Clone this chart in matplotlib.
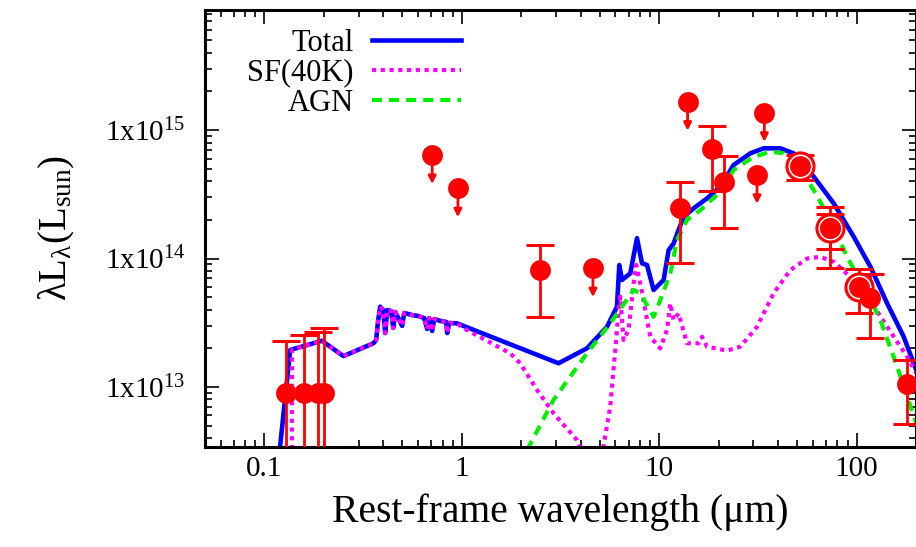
import numpy as np
import matplotlib.pyplot as plt
from matplotlib.ticker import FixedLocator, LogLocator, NullFormatter, FuncFormatter

plt.rcParams['font.family'] = 'Liberation Serif'
plt.rcParams['mathtext.fontset'] = 'custom'
plt.rcParams['mathtext.rm'] = 'Liberation Serif'
plt.rcParams['mathtext.it'] = 'Liberation Serif:italic'

# --- SED model components (wavelength in micron, lambda L_lambda in L_sun) ---
# UV rise of the total and SF models
wl_uv_total = [0.1173, 0.1350]
L_uv_total = [2.43e12, 1.94e13]
wl_uv_sf = [0.1377, 0.1380]
L_uv_sf = [2.4e12, 1.95e13]

# stellar UV-optical continuum, common to Total and SF
wl_star = [0.1954, 0.2514, 0.3568, 0.3682, 0.3770, 0.3859, 0.3996, 0.4091, 0.4187,
           0.4387, 0.4491, 0.4597, 0.4987, 0.5105, 0.5604, 0.6012, 0.6447, 0.6677,
           0.6836, 0.7079, 0.7245, 0.7772, 0.8335, 0.8435, 0.8632, 0.9445]
L_star = [2.29e13, 1.74e13, 2.19e13, 2.32e13, 3.32e13, 4.22e13, 3.97e13, 2.63e13, 3.97e13,
          3.90e13, 2.88e13, 3.84e13, 2.99e13, 3.77e13, 3.63e13, 3.57e13, 3.44e13, 2.83e13,
          3.44e13, 2.73e13, 3.38e13, 3.27e13, 3.21e13, 2.63e13, 3.15e13, 3.13e13]

# Total model beyond 1 micron
wl_total_ir = [3.091, 4.306, 5.438, 6.111, 6.278, 6.478, 7.138, 7.719, 8.181, 8.678,
               9.367, 10.53, 11.16, 11.83, 12.54, 13.30, 14.95, 17.47, 20.40, 23.84,
               28.95, 33.81, 41.10, 48.00, 60.63, 76.55, 96.67, 117.5, 142.8, 173.3,
               194.7, 223.2]
L_total_ir = [1.53e13, 2.00e13, 2.94e13, 4.22e13, 8.90e13, 6.81e13, 7.67e13, 1.44e14, 9.18e13, 8.90e13,
              5.69e13, 6.81e13, 1.16e14, 1.31e14, 1.67e14, 2.11e14, 2.46e14, 2.94e14, 3.62e14, 5.35e14,
              6.59e14, 7.21e14, 7.21e14, 6.59e14, 4.34e14, 2.69e14, 1.48e14, 8.63e13, 4.48e13, 2.46e13,
              1.53e13, 8.8e12]

# SF (40K) model beyond 1 micron
wl_sf_ir = [1.016, 1.759, 1.977, 2.403, 2.916, 3.832, 4.075, 4.25,
            5.03, 5.650, 5.990, 6.225, 6.350, 6.600, 6.997, 7.418, 7.653, 8.021,
            9.014, 10.13, 10.95, 11.38, 11.83, 12.54, 13.83, 15.84, 16.48, 17.47,
            22.06, 25.76, 31.31, 37.99, 46.17, 56.12, 65.54, 76.55, 96.67, 122.7,
            154.3, 180.5, 200.9, 223.2]
L_sf_ir = [2.88e13, 1.83e13, 1.53e13, 9.5e12, 6.24e12, 3.87e12, 3.12e12, 2.5e12,
           2.47e12, 7.03e12, 1.94e13, 3.97e13, 5.05e13, 2.32e13, 2.78e13, 6.41e13, 8.90e13, 6.41e13,
           2.46e13, 2.00e13, 2.78e13, 4.48e13, 3.32e13, 3.74e13, 2.19e13, 2.19e13, 2.46e13, 2.06e13,
           1.92e13, 2.06e13, 2.94e13, 5.36e13, 8.13e13, 1.00e14, 1.03e14, 9.44e13, 6.81e13, 4.22e13,
           2.46e13, 1.72e13, 1.28e13, 9.6e12]

# AGN torus model
wl_agn = [1.954, 2.916, 4.306, 5.650, 7.418, 8.021, 9.367, 10.13, 11.38, 12.31,
          13.83, 16.16, 20.40, 23.84, 30.09, 36.57, 42.71, 49.93, 60.63, 73.66,
          89.48, 113.0, 132.0, 160.5, 180.5, 200.9, 223.2]
L_agn = [2.47e12, 7.93e12, 1.83e13, 3.13e13, 5.69e13, 5.36e13, 3.52e13, 4.75e13, 7.67e13, 1.39e14,
         2.00e14, 2.38e14, 3.31e14, 4.89e14, 6.19e14, 6.78e14, 6.59e14, 5.51e14, 3.41e14, 2.00e14,
         1.03e14, 5.36e13, 3.32e13, 1.44e13, 8.41e12, 5.21e12, 3.29e12]

# --- photometry ---
det_wl = [0.1288, 0.1595, 0.1878, 0.2008, 2.497, 12.79, 18.52, 21.21, 73.66, 117.5, 180.5]
det_L = [9.04e12, 9.04e12, 9.04e12, 9.04e12, 8.13e13, 2.46e14, 7.08e14, 3.96e14, 1.72e14, 4.90e13, 1.05e13]
det_hi = [2.28e13, 2.54e13, 2.69e13, 2.86e13, 1.27e14, 3.97e14, 1.07e15, 6.28e14, 2.50e14, 7.57e13, 1.62e13]
det_lo = [1e12, 1e12, 1e12, 1e12, 3.52e13, 9.27e13, 3.37e14, 1.74e14, 8.40e13, 2.42e13, 5.13e12]

ring_wl = [51.90, 73.66, 102.5]
ring_L = [5.25e14, 1.72e14, 6.04e13]
ring_hi = [6.38e14, 2.22e14, 8.28e13]
ring_lo = [4.08e14, 1.19e14, 3.74e13]

lim_wl = [0.7079, 0.9554, 4.618, 13.93, 31.31, 34.09]
lim_L = [6.38e14, 3.52e14, 8.4e13, 1.66e15, 4.47e14, 1.36e15]

total_wl = wl_uv_total + wl_star + wl_total_ir
total_L = L_uv_total + L_star + L_total_ir
sf_wl = wl_uv_sf + wl_star + wl_sf_ir
sf_L = L_uv_sf + L_star + L_sf_ir

fig = plt.figure(figsize=(9.16, 5.47), dpi=100)
ax = fig.add_axes([205 / 916, 1 - 446.7 / 547, 711 / 916, 436.7 / 547])

ax.plot(total_wl, total_L, color='#0000ff', lw=3.3, label='Total', zorder=2)
ax.plot(sf_wl, sf_L, color='#ff00ff', lw=3, linestyle=(0, (1, 1.1)), label='SF(40K)', zorder=2.1)
ax.plot(wl_agn, L_agn, color='#00ee00', lw=3, linestyle=(0, (2.4, 1.7)), label='AGN', zorder=2.2)

red = '#ff0000'
det_L = np.array(det_L)
ring_L = np.array(ring_L)
ax.errorbar(det_wl, det_L, yerr=[det_L - np.array(det_lo), np.array(det_hi) - det_L],
            fmt='none', ecolor=red, elinewidth=2, capsize=10, capthick=2.2, zorder=3)
ax.errorbar(ring_wl, ring_L, yerr=[ring_L - np.array(ring_lo), np.array(ring_hi) - ring_L],
            fmt='none', ecolor=red, elinewidth=2, capsize=10, capthick=2.2, zorder=3)
ax.plot(ring_wl, ring_L, 'o', ms=19.5, mfc='white', mec=red, mew=2.2, zorder=4)
ax.plot(ring_wl, ring_L, 'o', ms=15, color=red, mec='none', zorder=5)
ax.plot(det_wl, det_L, 'o', ms=15, color=red, mec='none', zorder=5)

# upper limits: circle with a short downward arrow
for w, l in zip(lim_wl, lim_L):
    ax.annotate('', xy=(w, l * 10 ** -0.225), xytext=(w, l),
                arrowprops=dict(arrowstyle='-|>', color=red, lw=2, mutation_scale=11,
                                shrinkA=0, shrinkB=0), zorder=4)
ax.plot(lim_wl, lim_L, 'o', ms=15, color=red, mec='none', zorder=5)

ax.set_xscale('log')
ax.set_yscale('log')
ax.set_xlim(0.05, 200)
ax.set_ylim(3.43e12, 8.6e15)

ax.xaxis.set_major_locator(FixedLocator([0.1, 1, 10, 100]))
ax.xaxis.set_major_formatter(FuncFormatter(lambda v, p: '%g' % v))
ax.xaxis.set_minor_locator(LogLocator(base=10, subs=np.arange(2, 10)))
ax.xaxis.set_minor_formatter(NullFormatter())
ax.yaxis.set_major_locator(FixedLocator([1e13, 1e14, 1e15]))
ax.yaxis.set_major_formatter(FuncFormatter(
    lambda v, p: r'$\mathregular{1x10^{%d}}$' % round(np.log10(v))))
ax.yaxis.set_minor_locator(LogLocator(base=10, subs=np.arange(2, 10)))
ax.yaxis.set_minor_formatter(NullFormatter())

ax.tick_params(which='both', direction='in', top=True, right=True, labelsize=21)
ax.tick_params(which='major', length=10, width=1.2)
ax.tick_params(which='minor', length=5, width=1.2)
ax.tick_params(axis='y', which='major', pad=14)
ax.tick_params(axis='x', which='major', pad=7)
for s in ax.spines.values():
    s.set_linewidth(2.2)

ax.set_xlabel('Rest-frame wavelength (μm)', fontsize=28.5, labelpad=8)
ax.set_ylabel(r'$\mathregular{λL_{λ}(L_{sun})}$', fontsize=28, labelpad=20)

ax.legend(loc='upper right', bbox_to_anchor=(0.36, 0.957), frameon=False,
          markerfirst=False, fontsize=22, handlelength=2.9, handletextpad=0.62,
          labelspacing=0.03, borderpad=0, borderaxespad=0)

fig.savefig('out.png', dpi=100)
